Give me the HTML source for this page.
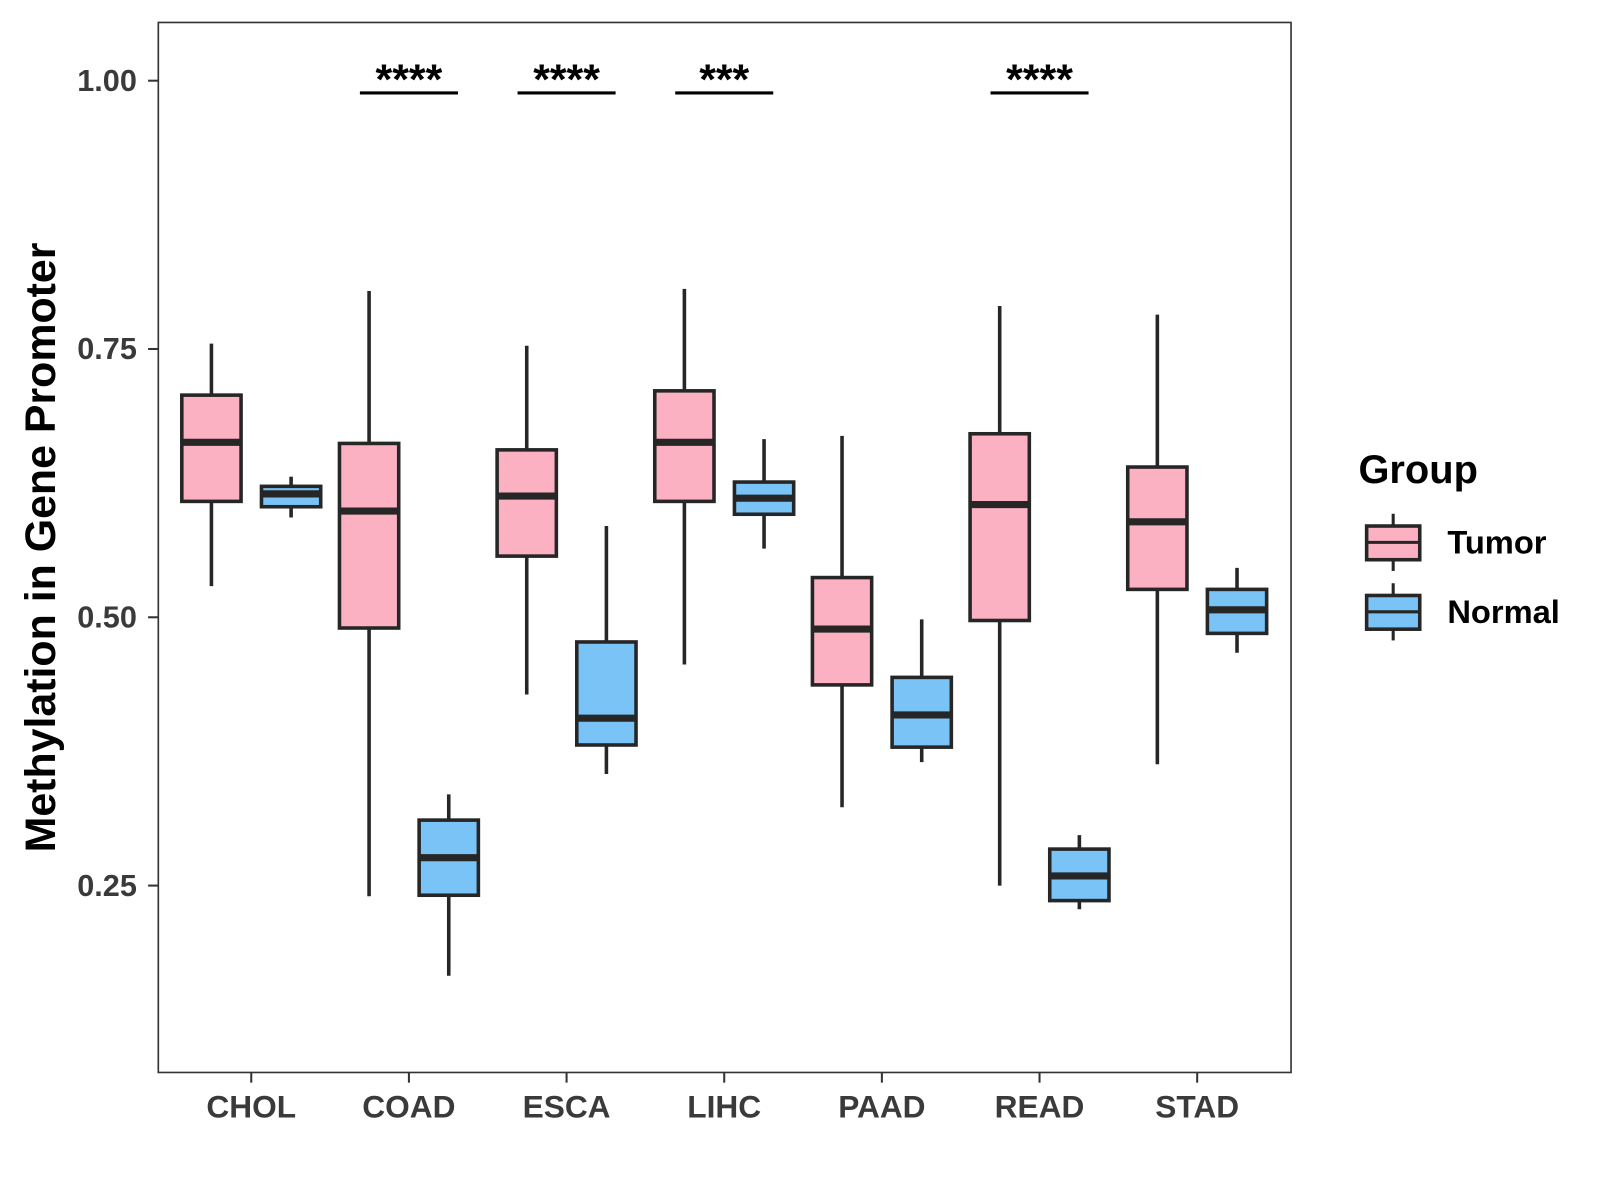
<!DOCTYPE html>
<html><head><meta charset="utf-8"><style>
html,body{margin:0;padding:0;background:#fff;}
svg{display:block;font-family:"Liberation Sans",Arial,sans-serif;}
</style></head><body>
<svg id="chart" width="1600" height="1200" viewBox="0 0 1600 1200" xmlns="http://www.w3.org/2000/svg">
<rect x="0" y="0" width="1600" height="1200" fill="#fff"/>
<g id="plot" transform="scale(1.0214)"></g>
</svg>
<script>
const categories = ["CHOL","COAD","ESCA","LIHC","PAAD","READ","STAD"];
// [whiskerLow, q1, median, q3, whiskerHigh]
const tumorStats = [
  [0.529,0.608,0.663,0.707,0.755],
  [0.240,0.490,0.599,0.662,0.804],
  [0.428,0.557,0.613,0.656,0.753],
  [0.456,0.608,0.663,0.711,0.806],
  [0.323,0.437,0.489,0.537,0.669],
  [0.250,0.497,0.605,0.671,0.790],
  [0.363,0.526,0.589,0.640,0.782]
];
const normalStats = [
  [0.593,0.603,0.615,0.622,0.631],
  [0.166,0.241,0.276,0.311,0.335],
  [0.354,0.381,0.406,0.477,0.585],
  [0.564,0.596,0.611,0.626,0.666],
  [0.365,0.379,0.409,0.444,0.498],
  [0.228,0.236,0.259,0.284,0.297],
  [0.467,0.485,0.507,0.526,0.546]
];
const sigLabels = ["","****","****","***","","****",""];
const yTicks = [0.25,0.50,0.75,1.00];
const yTickLabels = ["0.25","0.50","0.75","1.00"];

const NS="http://www.w3.org/2000/svg";
const plot=document.getElementById('plot');
const L=155,R=1264,T=22,B=1050;
const yScale=v=>79+(1-v)*1050.7;
const xScale=i=>246+i*154.35;
function mk(tag,attrs,parent){const e=document.createElementNS(NS,tag);for(const k in attrs)e.setAttribute(k,attrs[k]);(parent||plot).appendChild(e);return e;}

let frame=mk('rect',{x:L,y:T,width:R-L,height:B-T,fill:'none',stroke:'#333',"stroke-width":1.6});



yTicks.forEach((v,i)=>{
  const y=yScale(v);
  const t=mk('line',{x1:L-10,x2:L,y1:y,y2:y,stroke:'#333',"stroke-width":2});
  
  
  const tx=mk('text',{x:L-21,y:y+10,"text-anchor":"end","font-size":30,"font-weight":"bold",fill:'#3a3a3a'});
  tx.textContent=yTickLabels[i];
  
  
});

categories.forEach((c,i)=>{
  const x=xScale(i);
  const t=mk('line',{x1:x,x2:x,y1:B,y2:B+10,stroke:'#333',"stroke-width":2});
  
  
  const tx=mk('text',{x:x,y:B+44,"text-anchor":"middle","font-size":31,"font-weight":"bold",fill:'#3a3a3a'});
  tx.textContent=c;
  
  
});

function drawBox(cx,s,fill,name){
  const g=mk('g',{});
  
  
  const w=29;
  mk('line',{x1:cx,x2:cx,y1:yScale(s[0]),y2:yScale(s[4]),stroke:'#262626',"stroke-width":3.5},g);
  mk('rect',{x:cx-w,y:yScale(s[3]),width:2*w,height:yScale(s[1])-yScale(s[3]),fill:fill,stroke:'#262626',"stroke-width":3.5},g);
  mk('line',{x1:cx-w,x2:cx+w,y1:yScale(s[2]),y2:yScale(s[2]),stroke:'#262626',"stroke-width":7},g);
}
categories.forEach((c,i)=>{
  drawBox(xScale(i)-39,tumorStats[i],'#FBB1C2','box-tumor-'+c.toLowerCase());
  drawBox(xScale(i)+39,normalStats[i],'#79C3F7','box-normal-'+c.toLowerCase());
  if(sigLabels[i]){
    const l=mk('line',{x1:xScale(i)-48,x2:xScale(i)+48,y1:91,y2:91,stroke:'#000',"stroke-width":3});
    
    
    const tx=mk('text',{x:xScale(i),y:92,"text-anchor":"middle","font-size":42,"font-weight":"bold",fill:'#000'});
    tx.textContent=sigLabels[i];
    
    
  }
});

const yt=mk('text',{x:0,y:0,transform:'translate(54,536) rotate(-90)',"text-anchor":"middle","font-size":42,"font-weight":"bold",fill:'#000'});
yt.textContent='Methylation in Gene Promoter';



const lt=mk('text',{x:1330,y:473,"font-size":39,"font-weight":"bold",fill:'#000'});
lt.textContent='Group';


[['Tumor','#FBB1C2',531],['Normal','#79C3F7',599]].forEach(([n,f,cy])=>{
  const g=mk('g',{});
  
  
  mk('line',{x1:1364,x2:1364,y1:cy-28,y2:cy+28,stroke:'#262626',"stroke-width":3},g);
  mk('rect',{x:1338,y:cy-16,width:52,height:33,fill:f,stroke:'#262626',"stroke-width":3.5},g);
  mk('line',{x1:1338,x2:1390,y1:cy,y2:cy,stroke:'#262626',"stroke-width":3},g);
  const t=mk('text',{x:1417,y:cy+11,"font-size":32,"font-weight":"bold",fill:'#000'},g);
  t.textContent=n;
});
</script>
</body></html>
